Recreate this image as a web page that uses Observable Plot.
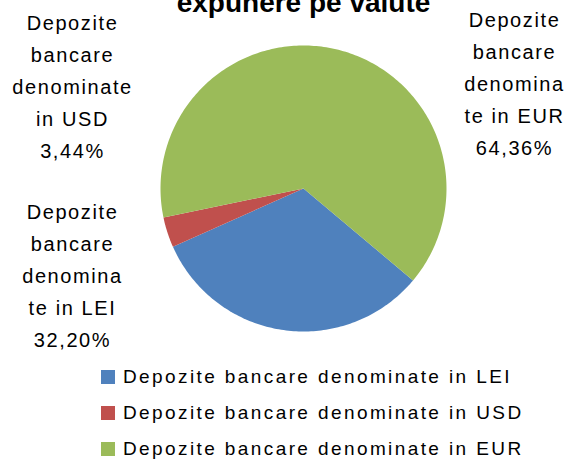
<!DOCTYPE html>
<html>
<head>
<meta charset="utf-8">
<script src="https://cdn.jsdelivr.net/npm/d3@7"></script>
<script src="https://cdn.jsdelivr.net/npm/@observablehq/plot@0.6"></script>
<style>
  html, body { margin: 0; padding: 0; background: #fff; }
  #chart { width: 571px; height: 463px; overflow: hidden; position: relative; }
  #chart svg { display: block; }
  .lg-swatches { font-family: "Liberation Sans", Arial, sans-serif; font-size: 19px; letter-spacing: 2.4px; color: #000; margin: 0 0 0 101px; }
  .lg-swatch { height: 36px; padding-bottom: 0 !important; }
  .lg-swatch > svg { margin-right: 8px !important; }
</style>
</head>
<body>
<div id="chart"></div>
<script>
// ---- data ----
const title = "expunere pe valute";
const categories = [
  "Depozite bancare denominate in LEI",
  "Depozite bancare denominate in USD",
  "Depozite bancare denominate in EUR"
];
const shares = [32.20, 3.44, 64.36];
const labelLines = [
  ["Depozite", "bancare", "denomina", "te in LEI"],
  ["Depozite", "bancare", "denominate", "in USD"],
  ["Depozite", "bancare", "denomina", "te in EUR"]
];
const colors = ["#4F81BD", "#C0504D", "#9BBB59"];

// ---- build slices ----
const table = categories.map((c, i) => ({name: c, value: shares[i], lines: labelLines[i]}));
const startDeg = 130;
const pie = d3.pie().sort(null).value(d => d.value)
  .startAngle(startDeg * Math.PI / 180)
  .endAngle(startDeg * Math.PI / 180 + 2 * Math.PI);
const arcs = pie(table);
const pts = [];
for (const a of arcs) {
  pts.push({name: a.data.name, x: 0, y: 0});
  const n = Math.max(2, Math.ceil((a.endAngle - a.startAngle) * 180 / Math.PI));
  for (let k = 0; k <= n; ++k) {
    const t = a.startAngle + (a.endAngle - a.startAngle) * k / n;
    pts.push({name: a.data.name, x: Math.sin(t), y: Math.cos(t)});
  }
}
const fmt = v => v.toFixed(2).replace(".", ",") + "%";
const labelText = d => d.lines.join("\n") + "\n" + fmt(d.value);

// label placement (layout offsets from pie centre, px)
const labelPlace = {
  [categories[0]]: {dx: -231, dy: 84},
  [categories[1]]: {dx: -231, dy: -105},
  [categories[2]]: {dx: 211, dy: -108}
};

const marks = [
  Plot.line(pts, {x: "x", y: "y", z: "name", fill: "name", stroke: "none"}),
  Plot.text([title], {
    frameAnchor: "top", lineAnchor: "bottom", dy: -34,
    fontWeight: "bold", fontSize: 28, fill: "#000"
  })
];
for (const d of table) {
  const p = labelPlace[d.name];
  marks.push(Plot.text([d], {
    text: labelText, frameAnchor: "middle", lineAnchor: "middle",
    lineHeight: 1.6, dx: p.dx, dy: p.dy, fontSize: 20, fill: "#000",
    style: "letter-spacing:1.6px"
  }));
}

const plot = Plot.plot({
  width: 571,
  height: 359,
  marginLeft: 160,
  marginRight: 125,
  marginTop: 45,
  marginBottom: 28,
  x: {domain: [-1, 1], axis: null},
  y: {domain: [-1, 1], axis: null},
  color: {domain: categories, range: colors},
  style: {fontFamily: "'Liberation Sans', Arial, sans-serif", fontSize: "20px", background: "#fff", color: "#000", overflow: "visible"},
  marks
});
plot.querySelectorAll("text").forEach(t => t.style.letterSpacing = "");
const chart = document.getElementById("chart");
chart.appendChild(plot);
// apply letter spacing to pie labels
plot.querySelectorAll("g[aria-label='text']").forEach((g, i) => {
  if (i > 0) g.setAttribute("letter-spacing", "1.6");
});

const legend = Plot.legend({
  color: {domain: categories, range: colors},
  legend: "swatches",
  columns: 1,
  swatchSize: 14,
  className: "lg"
});
chart.appendChild(legend);
</script>
</body>
</html>
